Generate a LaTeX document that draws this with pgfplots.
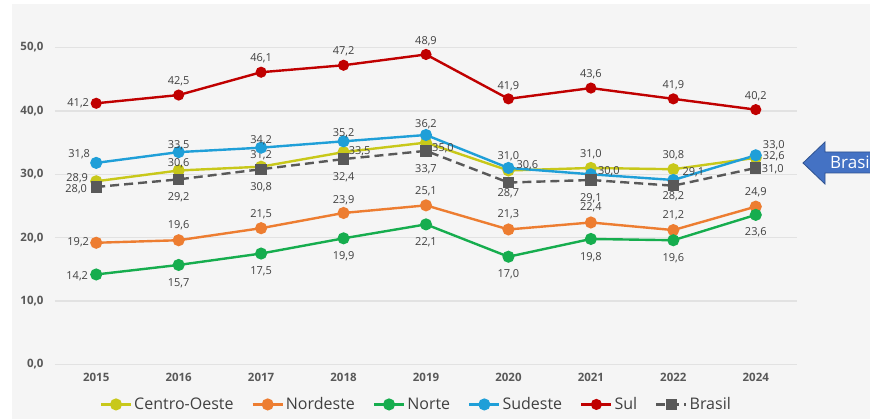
\documentclass[border=0pt]{standalone}
\usepackage{pgfplots}
\pgfplotsset{compat=1.18}
\usepackage{pgfplotstable}
\usepackage{fontspec}
\setmainfont{Open Sans}
\definecolor{panel}{HTML}{F5F5F5}
\definecolor{gridc}{HTML}{E2E2E2}
\definecolor{labc}{HTML}{404040}
\definecolor{tickc}{HTML}{595959}
\definecolor{cSul}{HTML}{C00000}
\definecolor{cSud}{HTML}{1F9FD8}
\definecolor{cCO}{HTML}{C8C81A}
\definecolor{cNE}{HTML}{ED7D31}
\definecolor{cN}{HTML}{16AD4E}
\definecolor{cBR}{HTML}{595959}
\definecolor{arrowfill}{HTML}{4472C4}
\definecolor{arrowdraw}{HTML}{2F528F}

% x y dx dy  (label offsets in pt)
\pgfplotstableread{
x y dx dy
0 28.9 -19 3
1 30.6 0 7
2 31.2 0 11
3 33.5 16 1
4 35.0 17 -6
5 30.6 19 5
6 31.0 0 14
7 30.8 0 14
8 32.6 18 2
}\tCO
\pgfplotstableread{
x y dx dy
0 19.2 -18 1
1 19.6 0 15
2 21.5 0 14
3 23.9 0 13
4 25.1 0 14
5 21.3 0 15
6 22.4 0 15
7 21.2 0 15
8 24.9 0 14
}\tNE
\pgfplotstableread{
x y dx dy
0 14.2 -19 -2
1 15.7 0 -18
2 17.5 0 -18
3 19.9 0 -18
4 22.1 0 -18
5 17.0 0 -18
6 19.8 0 -18
7 19.6 0 -18
8 23.6 0 -17
}\tN
\pgfplotstableread{
x y dx dy
0 31.8 -17 9
1 33.5 0 7
2 34.2 0 7
3 35.2 0 8
4 36.2 0 11
5 31.0 0 12
6 30.0 18 3
7 29.1 20 8
8 33.0 18 10
}\tSud
\pgfplotstableread{
x y dx dy
0 41.2 -18 0
1 42.5 0 14
2 46.1 0 14
3 47.2 0 14
4 48.9 0 13
5 41.9 0 13
6 43.6 0 14
7 41.9 0 14
8 40.2 0 13
}\tSul
\pgfplotstableread{
x y dx dy
0 28.0 -20 -2
1 29.2 0 -18
2 30.8 0 -18
3 32.4 0 -18
4 33.7 0 -18
5 28.7 0 -11
6 29.1 0 -18
7 28.2 0 -11
8 31.0 17 -1
}\tBR

\begin{document}
\begin{tikzpicture}[x=1pt,y=1pt]
\useasboundingbox (0,0) rectangle (870,419);
\fill[white] (0,0) rectangle (870,419);
\fill[panel] (12,0) rectangle (870,415);
\begin{scope}
\clip (0,0) rectangle (870,419);
\draw[arrowdraw, fill=arrowfill, line width=0.8pt]
  (803,256) -- (825,277) -- (825,267) -- (880,267) -- (880,246) -- (825,246) -- (825,235) -- cycle;
\node[anchor=west, text=white, font=\fontsize{17}{19}\selectfont, inner sep=0pt] at (830,256.5) {Brasil};
\end{scope}
\begin{axis}[
  at={(55pt,54.5pt)}, anchor=south west,
  scale only axis, width=742pt, height=317pt,
  xmin=-0.5, xmax=8.5, ymin=0, ymax=50,
  axis line style={draw=none},
  clip=false,
  xtick={0,...,8},
  xticklabels={2015,2016,2017,2018,2019,2020,2021,2022,2024},
  ytick={0,10,...,50},
  ymajorgrids, grid style={gridc, line width=1.3pt},
  major tick length=0pt,
  tick label style={text=tickc, font=\fontsize{11.5}{13}\selectfont\bfseries},
  xticklabel style={yshift=-5pt},
  yticklabel style={xshift=-8pt, /pgf/number format/.cd, fixed, fixed zerofill, precision=1, use comma, assume math mode=true},
  legend columns=-1,
  legend style={at={(0.487,-0.126)}, anchor=center, draw=none, fill=none,
    font=\fontsize{16}{18}\selectfont, text=labc,
    /tikz/every even column/.append style={column sep=16pt}},
  legend image code/.code={
    \draw[#1, mark repeat=2, mark phase=2] plot coordinates {(0pt,0pt) (15pt,0pt) (30pt,0pt)};
  },
  point meta=y,
  nodes near coords={\pgfmathprintnumber[fixed,fixed zerofill,precision=1,use comma,assume math mode=true]{\pgfplotspointmeta}},
  visualization depends on={\thisrow{dx} \as \ldx},
  visualization depends on={\thisrow{dy} \as \ldy},
  every node near coord/.append style={anchor=center, inner sep=0pt, text=labc,
    font=\fontsize{11}{12}\selectfont, xshift=\ldx pt, yshift=\ldy pt},
  every axis plot/.append style={line width=2.4pt, mark options={solid}},
]
\addplot[cCO, mark=*, mark size=4.8pt] table[x=x,y=y] {\tCO};
\addlegendentry{Centro-Oeste}
\addplot[cNE, mark=*, mark size=4.8pt] table[x=x,y=y] {\tNE};
\addlegendentry{Nordeste}
\addplot[cN, mark=*, mark size=4.8pt] table[x=x,y=y] {\tN};
\addlegendentry{Norte}
\addplot[cSud, mark=*, mark size=4.8pt] table[x=x,y=y] {\tSud};
\addlegendentry{Sudeste}
\addplot[cSul, mark=*, mark size=4.3pt] table[x=x,y=y] {\tSul};
\addlegendentry{Sul}
\addplot[cBR, dashed, dash pattern=on 9pt off 5pt, mark=square*, mark size=4.5pt] table[x=x,y=y] {\tBR};
\addlegendentry{Brasil}
\end{axis}
\end{tikzpicture}
\end{document}
